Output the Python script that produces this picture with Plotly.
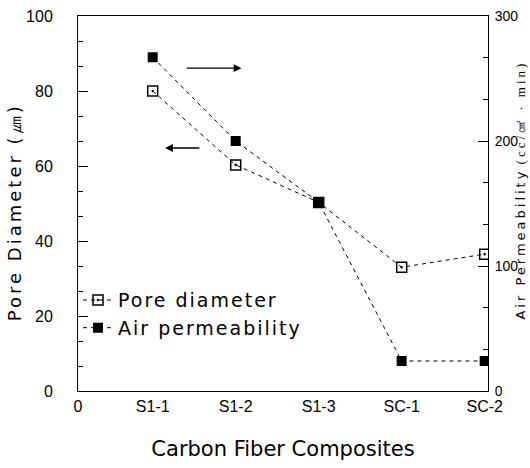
import plotly.graph_objects as go

categories = ["S1-1", "S1-2", "S1-3", "SC-1", "SC-2"]
cat_pos = [1, 2, 3, 4, 5]
pore_diameter = [80.0, 60.3, 50.3, 33.0, 36.5]
air_permeability = [267, 200, 151, 24, 24]
x_origin = 0.1
x_tick_vals = [x_origin, 1, 2, 3, 4, 5]
x_tick_text = ["0"] + categories

FONT = "DejaVu Sans"
TICKFONT = "Liberation Sans"
LS = "letter-spacing:2px"

fig = go.Figure()
fig.add_trace(go.Scatter(
    x=cat_pos, y=pore_diameter, name=f"<span style='{LS}'>Pore diameter</span>", yaxis="y",
    mode="lines+markers",
    line=dict(color="black", width=1, dash="4px,4px"),
    marker=dict(symbol="square-open-dot", size=10, color="black", line=dict(width=1.5, color="black")),
))
fig.add_trace(go.Scatter(
    x=cat_pos, y=air_permeability, name=f"<span style='{LS}'>Air permeability</span>", yaxis="y2",
    mode="lines+markers",
    line=dict(color="black", width=1, dash="4px,4px"),
    marker=dict(symbol="square", size=10, color="black"),
))

# direction arrows
fig.add_annotation(x=2.07, y=86.1, ax=1.39, ay=86.1, xref="x", yref="y", axref="x", ayref="y",
                   showarrow=True, arrowhead=2, arrowsize=1.2, arrowwidth=1.3, arrowcolor="black", text="")
fig.add_annotation(x=1.15, y=64.8, ax=1.58, ay=64.8, xref="x", yref="y", axref="x", ayref="y",
                   showarrow=True, arrowhead=2, arrowsize=1.2, arrowwidth=1.3, arrowcolor="black", text="")

# axis titles as annotations (fixed positions)
fig.add_annotation(text="<span style='letter-spacing:3px'>Pore Diameter (㎛)</span>",
                   xref="paper", yref="paper", x=-0.156, y=0.477,
                   textangle=-90, showarrow=False, font=dict(size=18, family=FONT),
                   xanchor="center", yanchor="middle")
fig.add_annotation(text="<span style='letter-spacing:3px'>Air Permeability</span> "
                        "<span style='font-family:Liberation Serif;letter-spacing:3px'>(cc/㎠ · min)</span>",
                   xref="paper", yref="paper", x=1.077, y=0.536,
                   textangle=-90, showarrow=False, font=dict(size=13, family=FONT),
                   xanchor="center", yanchor="middle")

fig.update_layout(
    width=530, height=468,
    margin=dict(l=78, r=42, t=16, b=77, autoexpand=False),
    paper_bgcolor="white", plot_bgcolor="white",
    font=dict(family=FONT, size=15, color="black"),
    showlegend=True,
    legend=dict(x=0.0, y=0.293, xanchor="left", yanchor="top", bgcolor="rgba(0,0,0,0)",
                font=dict(size=19, family=FONT), itemwidth=30),
    xaxis=dict(
        range=[x_origin, 5.04], tickvals=x_tick_vals, ticktext=x_tick_text,
        showline=True, linecolor="black", linewidth=1, mirror=True,
        ticks="", showgrid=False, zeroline=False, automargin=False,
        ticklabelstandoff=1,
        tickfont=dict(size=16, family=TICKFONT),
        title=dict(text="Carbon Fiber Composites", font=dict(size=21, family=FONT), standoff=27),
    ),
    yaxis=dict(
        range=[0, 100], dtick=20, tick0=0,
        showline=True, linecolor="black", linewidth=1,
        ticks="inside", ticklen=10, tickcolor="black",
        minor=dict(dtick=20/3, tick0=0, ticks="inside", ticklen=5, tickcolor="black"),
        showgrid=False, zeroline=False, automargin=False,
        ticklabelstandoff=21,
        tickfont=dict(size=16, family=TICKFONT),
    ),
    yaxis2=dict(
        range=[0, 300], dtick=100, tick0=0, overlaying="y", side="right",
        showline=True, linecolor="black", linewidth=1,
        ticks="inside", ticklen=10, tickcolor="black",
        minor=dict(dtick=100/3, tick0=0, ticks="inside", ticklen=5, tickcolor="black"),
        showgrid=False, zeroline=False, automargin=False,
        ticklabelstandoff=3,
        tickfont=dict(size=14, family=TICKFONT),
    ),
)

fig.write_html("out.html", config={"displayModeBar": False},
               post_script="document.body.style.margin='0';document.body.style.overflow='hidden';")
